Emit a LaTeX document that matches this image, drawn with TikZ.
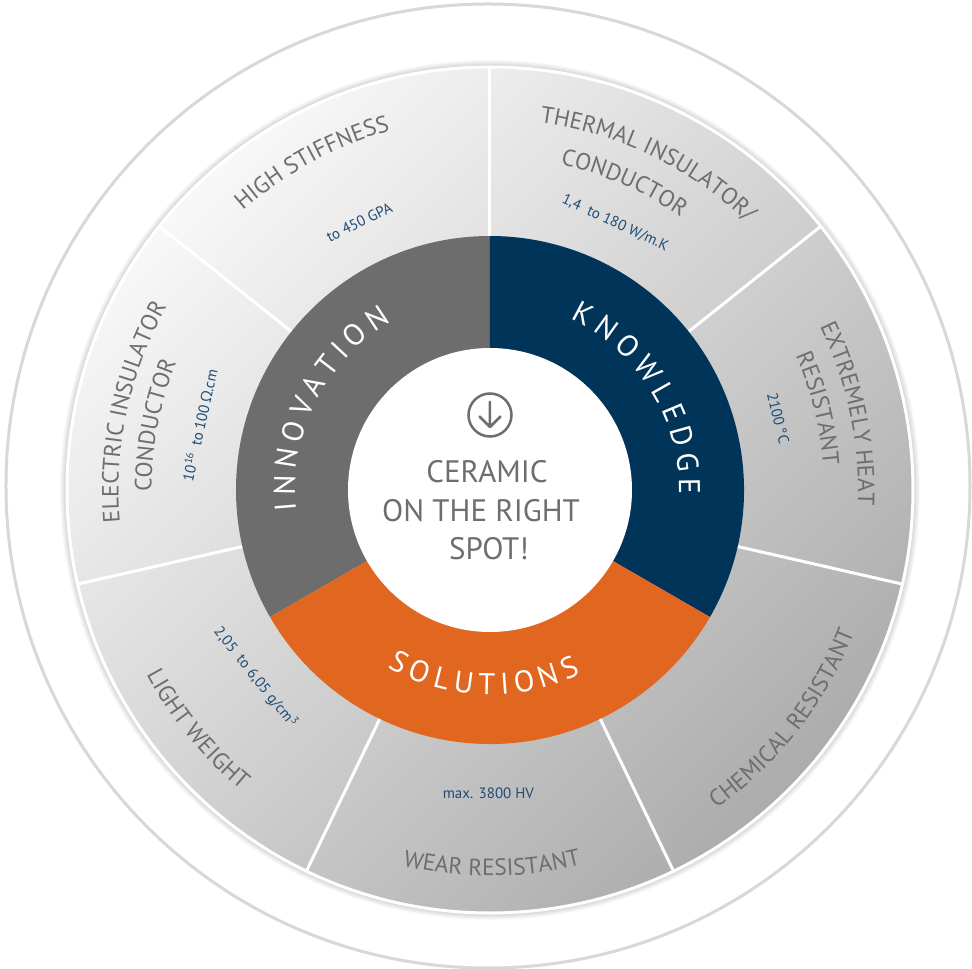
\documentclass[tikz,border=0pt]{standalone}
\usepackage{fontspec}
\setmainfont{PT Sans}
\newfontfamily\greekfont{Open Sans}
\usetikzlibrary{decorations.text}

\definecolor{innovgray}{RGB}{109,109,109}
\definecolor{knownavy}{RGB}{0,52,89}
\definecolor{solorange}{RGB}{225,103,32}
\definecolor{labelgray}{RGB}{110,110,110}
\definecolor{valueblue}{RGB}{30,76,118}
\definecolor{ringline}{RGB}{216,216,216}
\definecolor{segLight}{RGB}{248,248,248}
\definecolor{segDark}{RGB}{172,172,172}

\newcommand\titlefmt{\fontsize{23.5}{28}\selectfont\color{labelgray}}
\newcommand\ringfmt{\fontsize{30}{36}\selectfont\color{white}}

% curved label, clockwise arc: radius, centre angle, half span, text
\newcommand\cwlabel[4]{%
  \path[decorate, decoration={text along path, text align=center, text={#4}}]
    ({#2+#3}:#1) arc[start angle={#2+#3}, end angle={#2-#3}, radius=#1];}
% curved label, counter-clockwise arc
\newcommand\ccwlabel[4]{%
  \path[decorate, decoration={text along path, text align=center, text={#4}}]
    ({#2-#3}:#1) arc[start angle={#2-#3}, end angle={#2+#3}, radius=#1];}

\tikzset{
  valuetext/.style={text=valueblue, font=\fontsize{15}{18}\selectfont, inner sep=0pt},
  centertext/.style={text=labelgray, font=\fontsize{31}{38}\selectfont, inner sep=0pt, anchor=base},
  divider/.style={white, line width=3pt},
}

\begin{document}
\begin{tikzpicture}[x=1pt, y=1pt]
\fill[white] (-490,-479) rectangle (482,490);
\useasboundingbox (-490,-479) rectangle (482,490);

% thin outer ring
\draw[ringline, line width=3pt] (-2,4) circle (482);

% soft shadow around the segment disk
\foreach \k in {1,...,8}
  \draw[black, opacity=0.02, line width={\k*1.5pt}] (0,0) circle (424);

% property segments
\shade[top color=segLight, bottom color=segDark, shading angle=45] (0,0) circle (424);
\draw[white, line width=3pt] (0,0) circle (423);
\foreach \k in {0,...,6}
  \draw[divider] ({90-\k*360/7}:250) -- ({90-\k*360/7}:423);

% inner coloured ring
\fill[innovgray] (0,0) -- (90:254) arc[start angle=90, end angle=210, radius=254] -- cycle;
\fill[knownavy] (0,0) -- (-30:254) arc[start angle=-30, end angle=90, radius=254] -- cycle;
\fill[solorange] (0,0) -- (210:254) arc[start angle=210, end angle=330, radius=254] -- cycle;
\fill[white] (0,0) circle (142);

% ring words
\path[decorate, decoration={text along path, text align={fit to path}, text={|\ringfmt|INNOVATION}}]
  (186:195) arc[start angle=186, end angle=120.5, radius=195];
\path[decorate, decoration={text along path, text align={fit to path}, text={|\ringfmt|KNOWLEDGE}}]
  (64.7:189) arc[start angle=64.7, end angle=-1.5, radius=189];
\path[decorate, decoration={text along path, text align={fit to path}, text={|\ringfmt|SOLUTIONS}}]
  (240:205) arc[start angle=240, end angle=296.4, radius=205];

% centre icon and text
\node[circle, draw=labelgray, line width=2.5pt, minimum size=43pt, inner sep=0pt] (icon) at (0,75) {};
\draw[labelgray, line width=2.5pt, line cap=round, line join=round]
  (0,88) -- (0,63) (-10.5,73.5) -- (0,63) -- (10.5,73.5);
\node[centertext] (ct1) at (-3,7) {CERAMIC};
\node[centertext] (ct2) at (-9,-32) {ON THE RIGHT};
\node[centertext] (ct3) at (-1,-70) {SPOT!};

% segment titles
\cwlabel{373}{118.5}{40}{|\titlefmt|HIGH STIFFNESS}
\cwlabel{371}{64.2}{40}{|\titlefmt|THERMAL INSULATOR/}
\cwlabel{333}{66.4}{40}{|\titlefmt|CONDUCTOR}
\cwlabel{368}{12}{40}{|\titlefmt|EXTREMELY HEAT}
\cwlabel{334}{14}{40}{|\titlefmt|RESISTANT}
\ccwlabel{391}{-38}{40}{|\titlefmt|CHEMICAL RESISTANT}
\ccwlabel{386}{-89.7}{40}{|\titlefmt|WEAR RESISTANT}
\ccwlabel{390}{-140.7}{40}{|\titlefmt|LIGHT WEIGHT}
\cwlabel{371.5}{167.7}{40}{|\titlefmt|ELECTRIC INSULATOR}
\cwlabel{338.5}{169.1}{40}{|\titlefmt|CONDUCTOR}

% segment values
\node[valuetext, rotate=26] (v1) at (116:298) {to 450 GPA};
\node[valuetext, rotate=-25] (v2) at (64.9:295) {1,4\ \ to 180 W/m.K};
\node[valuetext, rotate=-76] (v3) at (14:297) {2100 °C};
\node[valuetext] (v5) at (-90.3:303) {max. 3800 HV};
\node[valuetext, rotate=-51.4] (v6) at (218.6:300) {2,05\ \ to 6,05 g/cm\textsuperscript{3}};
\node[valuetext, rotate=77.4] (v7) at (167.4:298) {10\textsuperscript{16}\ \ to 100\,{\greekfont Ω}.cm};
\end{tikzpicture}
\end{document}
